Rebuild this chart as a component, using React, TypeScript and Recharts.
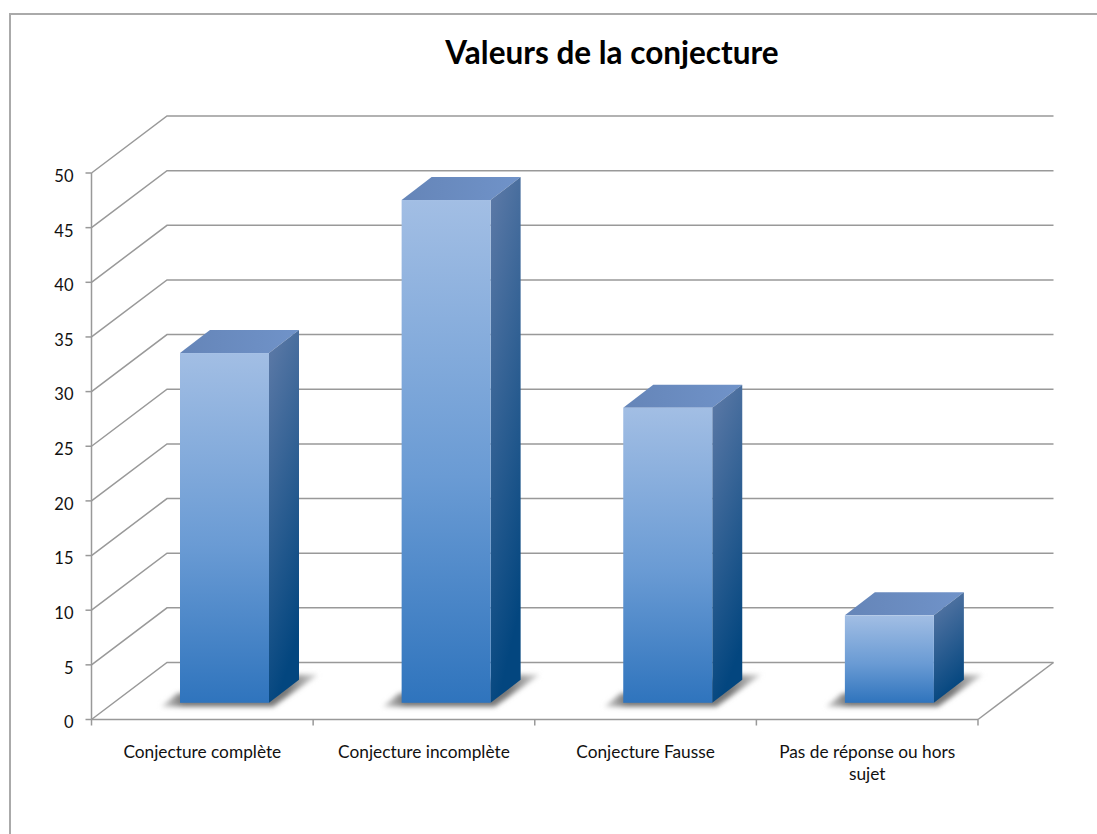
import React from 'react';
import { BarChart, Bar, XAxis, YAxis, CartesianGrid, Text } from 'recharts';

const categories = ['Conjecture complète', 'Conjecture incomplète', 'Conjecture Fausse', 'Pas de réponse ou hors sujet'];
const values = [32, 46, 27, 8];
const yTicks = [0, 5, 10, 15, 20, 25, 30, 35, 40, 45, 50];

const chartData = categories.map((name, i) => ({ name, value: values[i] }));

const FONT = 'Lato, "Open Sans", sans-serif';
const GRID = '#999999';
const WALL_DX = 75.5; // depth of the floor
const WALL_DY = 57;
const BAR_DX = 30; // depth of a bar
const BAR_DY = 23;
const FLOOR_DX = 22.5; // bars stand a bit behind the front edge
const FLOOR_DY = 16.7;
const BAND = 221.6;

// grid line: slanted on the side wall, then flat on the back wall
const gridLine = (props: any) => {
  const { x1, x2, y1, index } = props;
  const atFloor = y1 > 700;
  return (
    <g key={`grid-${index}`} fill="none" stroke={GRID} strokeWidth={1.5}>
      <path d={`M${x1},${y1}L${x1 + WALL_DX},${y1 - WALL_DY}L${x2 + WALL_DX},${y1 - WALL_DY}`} />
      {atFloor && <path d={`M${x2},${y1}L${x2 + WALL_DX},${y1 - WALL_DY}`} />}
    </g>
  );
};

const Bar3D = (props: any) => {
  const { x, y, width, height } = props;
  const left = x + FLOOR_DX;
  const right = left + width;
  const top = y - FLOOR_DY;
  const bottom = top + height;
  return (
    <g>
      <polygon
        points={`${left - 19},${bottom + 4} ${left - 3},${bottom - 9} ${right + BAR_DX},${bottom - BAR_DY - 5} ${right + BAR_DX + 19},${bottom - BAR_DY - 5} ${right + 4},${bottom + 4}`}
        fill="url(#shadowFill)"
        filter="url(#barShadow)"
      />
      <polygon
        points={`${left},${top} ${left + BAR_DX},${top - BAR_DY} ${right + BAR_DX},${top - BAR_DY} ${right},${top}`}
        fill="url(#barTop)"
      />
      <polygon
        points={`${right},${top} ${right + BAR_DX},${top - BAR_DY} ${right + BAR_DX},${bottom - BAR_DY} ${right},${bottom}`}
        fill="url(#barSide)"
      />
      <rect x={left} y={top} width={width} height={height} fill="url(#barFront)" />
    </g>
  );
};

const CategoryTick = (props: any) => {
  const { x, y, payload, index } = props;
  return (
    <g>
      <line x1={x - BAND / 2} x2={x - BAND / 2} y1={y - 8} y2={y - 2} stroke={GRID} strokeWidth={1.5} />
      {index === categories.length - 1 && (
        <line x1={x + BAND / 2} x2={x + BAND / 2} y1={y - 8} y2={y - 2} stroke={GRID} strokeWidth={1.5} />
      )}
      <Text
        x={x}
        y={y + 18}
        width={190}
        textAnchor="middle"
        verticalAnchor="start"
        lineHeight={22}
        style={{ fontFamily: FONT, fontSize: 17.3 }}
        fill="#111"
      >
        {payload.value}
      </Text>
    </g>
  );
};

export default function App() {
  return (
    <div style={{ position: 'absolute', left: 0, top: 0, width: 1097, height: 834, overflow: 'hidden', background: '#fff' }}>
      <div
        style={{
          position: 'absolute',
          left: 9,
          top: 13,
          right: 0,
          bottom: 0,
          borderTop: '2px solid #aaaaaa',
          borderLeft: '2px solid #aaaaaa',
        }}
      />
      <div
        style={{
          position: 'absolute',
          left: 0,
          width: 1224,
          top: 33,
          textAlign: 'center',
          fontFamily: FONT,
          fontWeight: 700,
          fontSize: 31.5,
          color: '#000',
        }}
      >
        Valeurs de la conjecture
      </div>
      <BarChart
        width={1097}
        height={834}
        data={chartData}
        barSize={89}
        margin={{ top: 173, right: 119, bottom: 0, left: 0 }}
        style={{ position: 'absolute', left: 0, top: 0 }}
      >
        <defs>
          <linearGradient id="barFront" x1="0" y1="0" x2="0" y2="1">
            <stop offset="0%" stopColor="#a2bee4" />
            <stop offset="55%" stopColor="#6a9bd4" />
            <stop offset="100%" stopColor="#2f74bd" />
          </linearGradient>
          <linearGradient id="barSide" x1="0" y1="0" x2="0.25" y2="1">
            <stop offset="0%" stopColor="#5f7ba8" />
            <stop offset="100%" stopColor="#03467f" />
          </linearGradient>
          <linearGradient id="barTop" x1="0" y1="0" x2="1" y2="0">
            <stop offset="0%" stopColor="#6585b8" />
            <stop offset="100%" stopColor="#7093c9" />
          </linearGradient>
          <linearGradient id="shadowFill" x1="0" y1="0" x2="1" y2="0">
            <stop offset="0%" stopColor="#d8d8d8" />
            <stop offset="14%" stopColor="#777777" />
            <stop offset="80%" stopColor="#777777" />
            <stop offset="100%" stopColor="#d8d8d8" />
          </linearGradient>
          <filter id="barShadow" x="-20%" y="-40%" width="140%" height="180%">
            <feGaussianBlur stdDeviation="2.5" />
          </filter>
        </defs>
        <CartesianGrid horizontal={gridLine} vertical={false} />
        <XAxis
          dataKey="name"
          interval={0}
          height={114.5}
          tickLine={false}
          tick={<CategoryTick />}
          axisLine={{ stroke: GRID, strokeWidth: 1.5 }}
        />
        <YAxis
          domain={[0, 50]}
          ticks={yTicks}
          width={91.5}
          tickSize={6}
          tickMargin={12}
          tick={{ fill: '#111', fontSize: 16.5, fontFamily: FONT, dy: 3 }}
          tickLine={{ stroke: GRID, strokeWidth: 1.5 }}
          axisLine={{ stroke: GRID, strokeWidth: 1.5 }}
        />
        <Bar dataKey="value" shape={<Bar3D />} isAnimationActive={false} />
      </BarChart>
    </div>
  );
}
